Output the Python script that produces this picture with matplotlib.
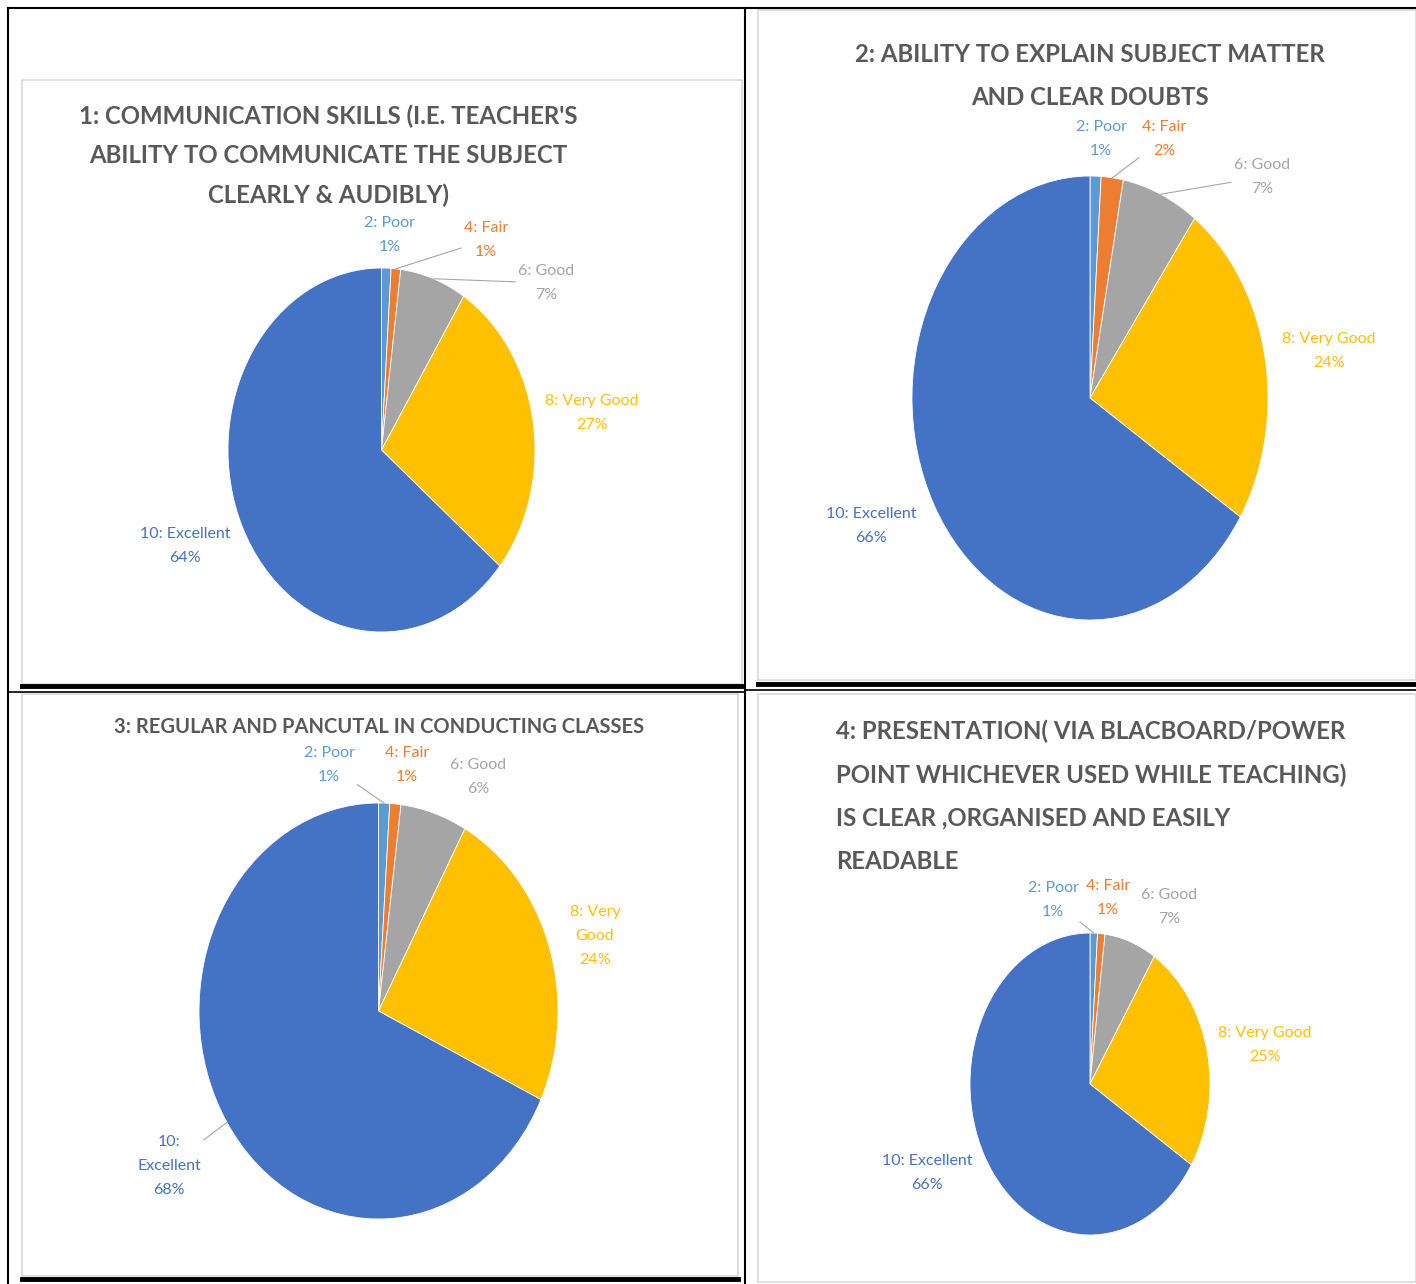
import matplotlib.pyplot as plt
from matplotlib.patches import Rectangle
from matplotlib.lines import Line2D
import numpy as np

plt.rcParams['font.family'] = ['Lato', 'DejaVu Sans']

W, H = 1416, 1284

categories = ['2: Poor', '4: Fair', '6: Good', '8: Very Good', '10: Excellent']
colors = ['#5B9BD5', '#ED7D31', '#A5A5A5', '#FFC000', '#4472C4']
label_colors = ['#5B9BD5', '#ED7D31', '#A5A5A5', '#FFC000', '#4472C4']

titles = [
    "1: COMMUNICATION SKILLS (I.E. TEACHER'S\nABILITY TO COMMUNICATE THE SUBJECT\nCLEARLY & AUDIBLY)",
    "2: ABILITY TO EXPLAIN SUBJECT MATTER\nAND CLEAR DOUBTS",
    "3: REGULAR AND PANCUTAL IN CONDUCTING CLASSES",
    "4: PRESENTATION( VIA BLACBOARD/POWER\nPOINT WHICHEVER USED WHILE TEACHING)\nIS CLEAR ,ORGANISED AND EASILY\nREADABLE",
]
values_1 = [1, 1, 7, 27, 64]
values_2 = [1, 2, 7, 24, 66]
values_3 = [1, 1, 6, 24, 68]
values_4 = [1, 1, 7, 25, 66]
all_values = [values_1, values_2, values_3, values_4]

# layout in pixels
frames = [(22, 80, 742, 684), (758, 10, 1416, 680), (22, 694, 738, 1276), (758, 694, 1416, 1282)]
pie_boxes = [(228, 268, 535, 632), (912, 176, 1268, 620), (199, 803, 558, 1219), (970, 933, 1210, 1235)]
title_pos = [(328, 156, 'center', 17.3, 1.85), (1090, 76, 'center', 17.3, 2.05),
             (379, 727, 'center', 14.5, 1.3), (836, 796, 'left', 17.3, 2.05)]
label_pos = [
    [(390, 235), (486, 240), (546, 283), (592, 413), (185, 546)],
    [(1101, 139), (1164, 139), (1262, 177), (1329, 351), (871, 526)],
    [(329, 765), (407, 765), (478, 777), (595, 936), (169, 1166)],
    [(1053, 900), (1108, 898), (1169, 907), (1265, 1045), (927, 1173)],
]
leaders = [[1, 2], [1, 2], [0, 4], [0]]
label_text_overrides = {(2, 3): '8: Very\nGood', (2, 4): '10:\nExcellent'}

fig = plt.figure(figsize=(W / 100, H / 100), dpi=100)


def fx(x):
    return x / W


def fy(y):
    return 1 - y / H


# table lines
table_lines = [
    ((8, 8), (8, 1284), 1.5), ((8, 1416), (8, 8), 1.5), ((745, 745), (8, 1284), 1.5),
    ((22, 742), (686, 686), 3.5), ((8, 745), (692, 692), 1.2),
    ((758, 1416), (684, 684), 3.5), ((745, 1416), (690, 690), 1.2),
    ((22, 738), (1279, 1279), 3.5),
]
for xs, ys, lw in table_lines:
    fig.add_artist(Line2D([fx(xs[0]), fx(xs[1])], [fy(ys[0]), fy(ys[1])],
                          color='black', lw=lw, zorder=-1))

for i in range(4):
    x0, y0, x1, y1 = frames[i]
    fig.add_artist(Rectangle((fx(x0), fy(y1)), (x1 - x0) / W, (y1 - y0) / H,
                             facecolor='white', edgecolor='#D9D9D9', lw=1.2, zorder=-2))

    tx, ty, ha, fs, ls = title_pos[i]
    fig.text(fx(tx), fy(ty), titles[i], ha=ha, va='center', fontsize=fs,
             color='#595959', fontweight='bold', linespacing=ls, multialignment=ha)

    bx0, by0, bx1, by1 = pie_boxes[i]
    ax = fig.add_axes([fx(bx0), fy(by1), (bx1 - bx0) / W, (by1 - by0) / H])
    ax.patch.set_visible(False)
    vals = all_values[i]
    wedges, _ = ax.pie(vals, colors=colors, startangle=90, counterclock=False,
                       wedgeprops=dict(edgecolor='white', linewidth=0.6))
    ax.set_aspect('auto')
    ax.set_xlim(-1, 1)
    ax.set_ylim(-1, 1)
    ax.axis('off')

    for j, w in enumerate(wedges):
        name = label_text_overrides.get((i, j), categories[j])
        txt = f'{name}\n{vals[j]}%'
        lx, ly = label_pos[i][j]
        ang = np.deg2rad((w.theta1 + w.theta2) / 2)
        if j in leaders[i]:
            ax.annotate(txt, xy=(np.cos(ang), np.sin(ang)), xycoords='data',
                        xytext=(fx(lx), fy(ly)), textcoords='figure fraction',
                        ha='center', va='center', fontsize=11.5, color=label_colors[j],
                        linespacing=1.9, annotation_clip=False,
                        arrowprops=dict(arrowstyle='-', color='#A6A6A6', lw=0.8,
                                        shrinkA=0, shrinkB=0))
        else:
            fig.text(fx(lx), fy(ly), txt, ha='center', va='center', fontsize=11.5,
                     color=label_colors[j], linespacing=1.9)

fig.savefig('out.png', dpi=100, facecolor='white')
